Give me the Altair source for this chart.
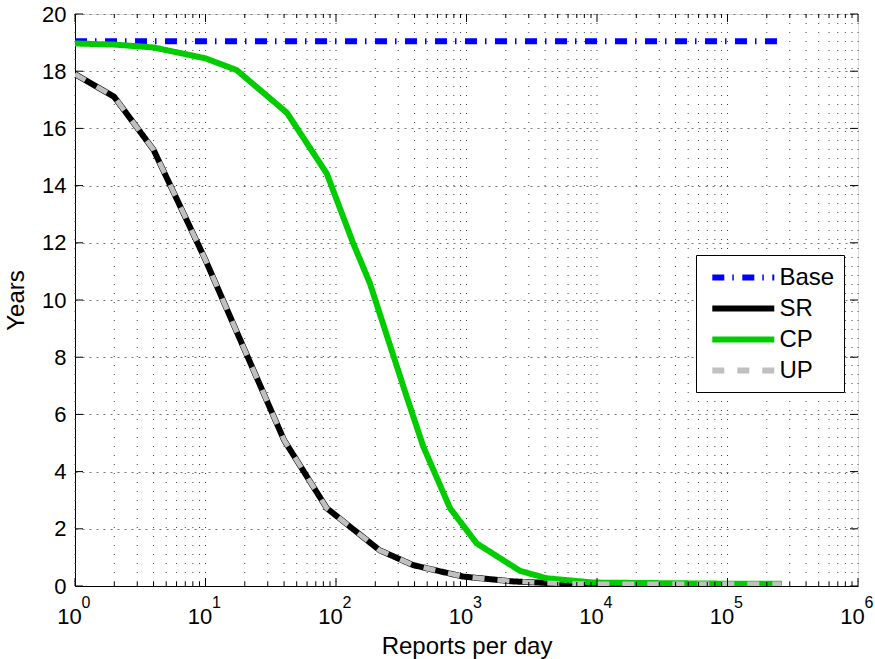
import altair as alt
import pandas as pd

# ---------------- data ----------------
series_order = ["Base", "SR", "CP", "UP"]

base_x = [1, 259200]
base_y = [19.05, 19.05]

sr_x = [1, 2, 4, 10, 17.3, 40, 85, 216, 390, 940, 2280, 5000, 10000, 100000, 259200]
sr_y = [17.9, 17.1, 15.25, 11.4, 8.9, 5.1, 2.72, 1.25, 0.73, 0.33, 0.16, 0.09, 0.07, 0.07, 0.07]

cp_x = [1, 2, 4, 10, 17.3, 42, 85, 135, 182, 348, 467, 748, 1197, 2570, 4110, 9400, 100000, 259200]
cp_y = [18.97, 18.93, 18.83, 18.45, 18.04, 16.55, 14.42, 12.0, 10.58, 6.62, 4.87, 2.72, 1.49, 0.53, 0.27, 0.12, 0.08, 0.08]

up_x = [1, 2, 4, 10, 17.3, 40, 85, 216, 390, 940, 2280, 5000, 10000, 100000, 259200]
up_y = [17.9, 17.1, 15.25, 11.4, 8.9, 5.1, 2.72, 1.25, 0.73, 0.33, 0.16, 0.09, 0.07, 0.07, 0.07]

x_major = [1, 10, 100, 1000, 10000, 100000, 1000000]
x_exponents = ["0", "1", "2", "3", "4", "5", "6"]
x_minor = [m * 10 ** k for k in range(6) for m in range(2, 10)]
y_ticks = [0, 2, 4, 6, 8, 10, 12, 14, 16, 18, 20]

colors = ["#0000ff", "#000000", "#00cc00", "#c0c0c0"]
dashes = [[12, 8, 1.5, 8.5], [1, 0], [1, 0], [12, 13]]

rows = []
for name, xs, ys in [("Base", base_x, base_y), ("SR", sr_x, sr_y),
                     ("CP", cp_x, cp_y), ("UP", up_x, up_y)]:
    for i, (a, b) in enumerate(zip(xs, ys)):
        rows.append({"series": name, "x": a, "y": b, "i": i})
df = pd.DataFrame(rows)

W, H = 783, 572
FONT = "Liberation Sans"

xscale = alt.Scale(type="log", domain=[1, 1000000], nice=False)
yscale = alt.Scale(domain=[0, 20], nice=False, zero=False)

X_AXIS = alt.Axis(values=x_major, labelExpr="'10'", labelOffset=-6,
                  labelFontSize=22, labelFont=FONT, labelColor="black",
                  labelBaseline="alphabetic", labelPadding=37,
                  labelFlush=False, labelOverlap=False,
                  ticks=False, tickSize=0, grid=False,
                  domainColor="black", title="Reports per day",
                  titleFontSize=24, titleFont=FONT, titleFontWeight="normal",
                  titleColor="black", titlePadding=7)
Y_AXIS = alt.Axis(values=y_ticks, labelFontSize=22, labelFont=FONT,
                  labelColor="black", labelPadding=9, labelFlush=False,
                  labelOverlap=False, ticks=False, tickSize=0,
                  grid=True, gridColor="#777", gridDash=[2, 5], gridWidth=1,
                  domainColor="black", title="Years", titleFontSize=24,
                  titleFont=FONT, titleFontWeight="normal", titleColor="black",
                  titlePadding=13)

def X(field="x:Q"):
    return alt.X(field, scale=xscale, axis=X_AXIS, title="Reports per day")

def Y(field="y:Q"):
    return alt.Y(field, scale=yscale, axis=Y_AXIS, title="Years")

LEG = dict(title=None, orient="none", legendX=621, legendY=241,
           symbolType="M-0.6,0H5.4", symbolSize=427, symbolStrokeWidth=6,
           labelFontSize=24, labelFont=FONT, labelColor="black",
           labelOffset=47.5, rowPadding=5, padding=9,
           strokeColor="black", fillColor="white", cornerRadius=0)

color_enc = alt.Color("series:N", scale=alt.Scale(domain=series_order, range=colors),
                      legend=alt.Legend(**LEG))
dash_enc = alt.StrokeDash("series:N", scale=alt.Scale(domain=series_order, range=dashes),
                          legend=alt.Legend(**LEG))

# grid
vgrid = alt.Chart(pd.DataFrame({"x": x_major + x_minor})).mark_rule(
    color="#444", strokeWidth=1, strokeDash=[1, 8]).encode(
    x=X(), y=alt.value(0), y2=alt.value(H))

# lines
def line_layer(name, width):
    return alt.Chart(df).transform_filter(alt.datum.series == name).mark_line(
        strokeWidth=width, clip=True).encode(
        x=X(), y=Y(), color=color_enc, strokeDash=dash_enc, order="i:Q")

lines = [line_layer("Base", 6), line_layer("SR", 6), line_layer("CP", 6), line_layer("UP", 5)]

# inside ticks (MATLAB style)
xmaj = pd.DataFrame({"x": x_major})
xmin = pd.DataFrame({"x": x_minor})
ydf = pd.DataFrame({"y": y_ticks})
tick_layers = []
for d, ln in [(xmaj, 8), (xmin, 4)]:
    tick_layers.append(alt.Chart(d).mark_rule(color="black", strokeWidth=1).encode(
        x=X(), y=alt.value(H), y2=alt.value(H - ln)))
    tick_layers.append(alt.Chart(d).mark_rule(color="black", strokeWidth=1).encode(
        x=X(), y=alt.value(0), y2=alt.value(ln)))
tick_layers.append(alt.Chart(ydf).mark_rule(color="black", strokeWidth=1).encode(
    y=Y(), x=alt.value(0), x2=alt.value(8)))
tick_layers.append(alt.Chart(ydf).mark_rule(color="black", strokeWidth=1).encode(
    y=Y(), x=alt.value(W), x2=alt.value(W - 8)))

# exponents of the x tick labels
exp_df = pd.DataFrame({"x": x_major, "e": x_exponents})
exps = alt.Chart(exp_df).mark_text(font=FONT, fontSize=16, align="center",
                                   baseline="alphabetic", dx=11, color="black").encode(
    x=X(), y=alt.value(H + 22), text="e:N")

chart = alt.layer(vgrid, *lines, *tick_layers, exps).properties(
    width=W, height=H,
    autosize=alt.AutoSizeParams(type="none"),
    padding={"left": 75, "top": 14, "right": 17, "bottom": 73},
    background="white",
).configure_view(stroke="black", strokeWidth=1).configure(font=FONT)

chart.save("out.html", embed_options={"renderer": "svg", "actions": False})
